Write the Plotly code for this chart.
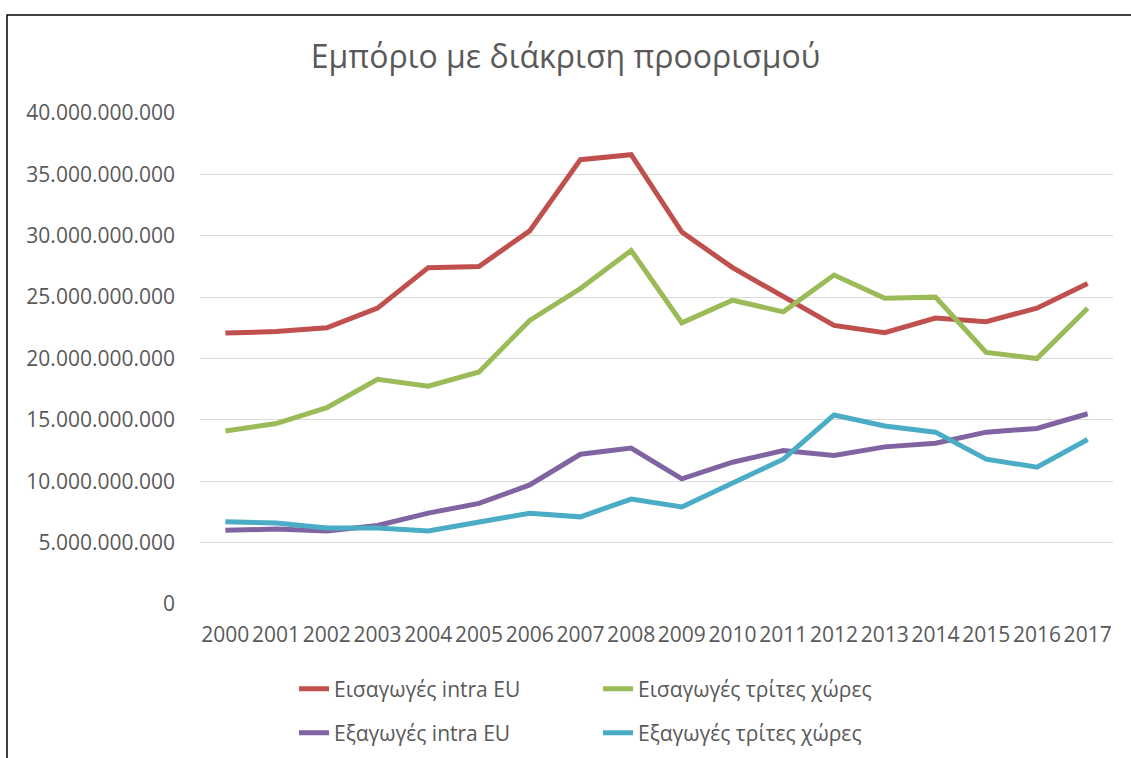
import plotly.graph_objects as go

# datos
years = [str(y) for y in range(2000, 2018)]
eisagoges_intra = [22.07, 22.2, 22.5, 24.1, 27.4, 27.5, 30.4, 36.2, 36.6, 30.3,
                   27.4, 25.0, 22.7, 22.1, 23.3, 23.0, 24.1, 26.1]
eisagoges_trites = [14.1, 14.7, 16.0, 18.3, 17.75, 18.9, 23.1, 25.7, 28.8, 22.9,
                    24.75, 23.8, 26.8, 24.9, 25.0, 20.5, 20.0, 24.1]
exagoges_intra = [6.0, 6.1, 5.95, 6.4, 7.4, 8.2, 9.7, 12.2, 12.7, 10.2,
                  11.55, 12.5, 12.1, 12.8, 13.1, 14.0, 14.3, 15.5]
exagoges_trites = [6.7, 6.6, 6.2, 6.2, 5.95, 6.7, 7.4, 7.1, 8.55, 7.9,
                   9.8, 11.8, 15.4, 14.5, 14.0, 11.8, 11.15, 13.4]
y_ticks = [0, 5e9, 10e9, 15e9, 20e9, 25e9, 30e9, 35e9, 40e9]

series = [
    ('Εισαγωγές intra EU', eisagoges_intra, '#C0504D', 'legend'),
    ('Εισαγωγές τρίτες χώρες', eisagoges_trites, '#9BBB59', 'legend'),
    ('Εξαγωγές intra EU', exagoges_intra, '#8064A2', 'legend2'),
    ('Εξαγωγές τρίτες χώρες', exagoges_trites, '#4BACC6', 'legend2'),
]

fig = go.Figure()
for name, vals, color, leg in series:
    fig.add_trace(go.Scatter(x=years, y=[v * 1e9 for v in vals], name=name,
                             mode='lines', legend=leg,
                             line=dict(color=color, width=5)))

font = 'Open Sans, sans-serif'
legend_style = dict(orientation='h', xanchor='left', yanchor='middle',
                    xref='paper', yref='container',
                    entrywidth=259, font=dict(family=font, size=21, color='#595959'),
                    bgcolor='rgba(0,0,0,0)')

fig.update_layout(
    width=1131, height=758,
    margin=dict(l=200, r=18, t=113, b=154),
    paper_bgcolor='white', plot_bgcolor='white',
    separators=',.',
    title=dict(text='Εμπόριο με διάκριση προορισμού', x=0.5, xanchor='center',
               y=0.925, yanchor='middle',
               font=dict(family=font, size=32, color='#595959')),
    legend=dict(x=0.103, y=1 - 689 / 758, **legend_style),
    legend2=dict(x=0.103, y=1 - 733 / 758, **legend_style),
    shapes=[dict(type='rect', xref='paper', yref='paper',
                 x0=(7 - 200) / 913, x1=1.2, y0=-0.5, y1=(604 - 15) / 491,
                 line=dict(color='black', width=1.5))],
)
fig.update_xaxes(type='category', range=[-0.5, 17.5], showgrid=False,
                 showline=False, ticks='', ticklabelstandoff=16,
                 tickfont=dict(family=font, size=21, color='#595959'))
fig.update_yaxes(range=[0, 40e9], tickvals=y_ticks, tickformat=',.0f',
                 gridcolor='#D9D9D9', gridwidth=1.2, zeroline=False,
                 showline=False, ticks='', ticklabelstandoff=24,
                 tickfont=dict(family=font, size=21, color='#595959'))

fig.write_html('out.html', config={'displayModeBar': False},
               post_script="document.body.style.margin='0';")
